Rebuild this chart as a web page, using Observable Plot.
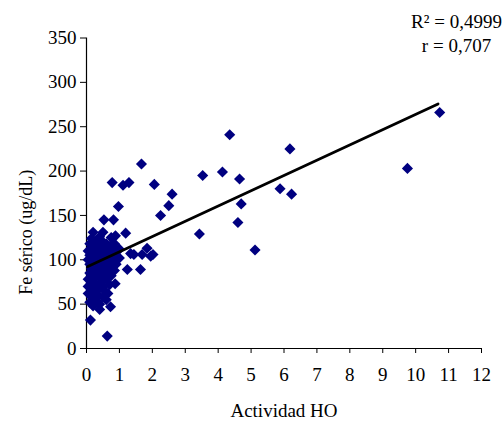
<!DOCTYPE html>
<html>
<head>
<meta charset="utf-8">
<script src="https://cdn.jsdelivr.net/npm/d3@7"></script>
<script src="https://cdn.jsdelivr.net/npm/@observablehq/plot@0.6"></script>
<style>
  html, body { margin: 0; padding: 0; background: white; }
</style>
</head>
<body>
<div id="chart"></div>
<script>
// Actividad HO (x) values
const xValues = [
  1.67, 0.78, 1.11, 1.29, 2.06, 2.6, 2.5, 2.25, 0.97, 0.53, 0.82, 0.2, 0.5, 1.19, 0.88,
  1.24, 1.64, 0.87, 0.12, 0.63, 0.4, 0.73, 1.34, 1.44, 1.84, 1.95, 1.69, 2.02,
  3.43, 3.53, 4.13, 4.35, 4.6, 4.65, 4.7, 5.12, 5.88, 6.18, 6.23, 9.75, 10.73,
  0.05, 0.05, 0.05, 0.05, 0.05,
  0.1, 0.1, 0.1, 0.1, 0.1,
  0.15, 0.15, 0.15, 0.15, 0.15, 0.15,
  0.2, 0.2, 0.2, 0.2, 0.2,
  0.25, 0.25, 0.25, 0.25, 0.25,
  0.3, 0.3, 0.3, 0.3, 0.3,
  0.35, 0.35, 0.35, 0.35,
  0.4, 0.4, 0.4, 0.4, 0.4, 0.4,
  0.45, 0.45, 0.45, 0.45,
  0.5, 0.5, 0.5, 0.5, 0.5,
  0.55, 0.55, 0.55, 0.55,
  0.6, 0.6, 0.6, 0.6, 0.6,
  0.65, 0.65, 0.65,
  0.7, 0.7, 0.7, 0.7,
  0.75, 0.75, 0.75, 0.75,
  0.8, 0.8,
  0.85, 0.85, 0.85,
  0.9, 0.9,
  1.0, 1.0
];
// Fe sérico (y) values
const yValues = [
  208, 187, 184, 187, 185, 174, 161, 150, 160, 145, 145, 131, 131, 130, 127,
  89, 89, 73, 32, 14, 44, 47, 107, 106, 113, 104, 106, 106,
  129, 195, 199, 241, 142, 191, 163, 111, 180, 225, 174, 203, 266,
  62, 70, 78, 100, 110,
  52, 85, 95, 105, 118,
  58, 68, 80, 90, 113, 124,
  48, 75, 100, 108, 120,
  55, 65, 85, 95, 115,
  72, 82, 105, 112, 122,
  60, 90, 98, 118,
  50, 68, 80, 103, 110, 126,
  75, 88, 95, 115,
  58, 70, 100, 108, 120,
  65, 85, 92, 112,
  55, 78, 98, 105, 118,
  62, 88, 110,
  72, 95, 102, 115,
  82, 90, 108, 125,
  98, 112,
  88, 104, 118,
  95, 110,
  102, 112
];
// Trend line endpoints
const trendX = [0.04, 10.68];
const trendY = [92.5, 275.7];
const xTicks = [0, 1, 2, 3, 4, 5, 6, 7, 8, 9, 10, 11, 12];
const yTicks = [0, 50, 100, 150, 200, 250, 300, 350];
const xLabel = "Actividad HO";
const yLabel = "Fe sérico (ug/dL)";
const statLines = ["R² = 0,4999", "r = 0,707"];

const points = xValues.map((x, i) => ({x, y: yValues[i]}));
const trend = trendX.map((x, i) => ({x, y: trendY[i]}));

const FS = 19;
const chart = Plot.plot({
  width: 502,
  height: 421,
  marginLeft: 86,
  marginRight: 21,
  marginTop: 37.5,
  marginBottom: 73,
  style: {fontFamily: "'Liberation Serif', 'Times New Roman', serif", fontSize: FS + "px", color: "black", background: "white", overflow: "visible"},
  x: {domain: [0, 12]},
  y: {domain: [0, 350]},
  marks: [
    Plot.axisX({ticks: xTicks, tickSize: 5, tickPadding: 14, label: null, stroke: "black", strokeOpacity: 1, fontSize: FS}),
    Plot.axisY({ticks: yTicks, tickSize: 6, tickPadding: 4, label: null, stroke: "black", strokeOpacity: 1, fontSize: FS}),
    Plot.ruleX([0], {y1: 0, y2: 350, stroke: "black", strokeWidth: 1.2}),
    Plot.ruleY([0], {x1: 0, x2: 12, stroke: "black", strokeWidth: 1.2}),
    Plot.dot(points, {x: "x", y: "y", symbol: "diamond2", r: 5, fill: "#000080", stroke: "none"}),
    Plot.line(trend, {x: "x", y: "y", stroke: "black", strokeWidth: 2.8}),
    Plot.text([xLabel], {frameAnchor: "bottom", dy: 62, textAnchor: "middle", lineAnchor: "middle", fontSize: FS, fill: "black"}),
    Plot.text([yLabel], {frameAnchor: "left", dx: -60, dy: 39, rotate: -90, textAnchor: "middle", lineAnchor: "middle", fontSize: 18, fill: "black"}),
    Plot.text([statLines[0]], {frameAnchor: "top-right", dx: -25, dy: -16.5, textAnchor: "middle", lineAnchor: "middle", fontSize: FS, fill: "black"}),
    Plot.text([statLines[1]], {frameAnchor: "top-right", dx: -25, dy: 7.5, textAnchor: "middle", lineAnchor: "middle", fontSize: FS, fill: "black"})
  ]
});
document.getElementById("chart").appendChild(chart);
</script>
</body>
</html>
